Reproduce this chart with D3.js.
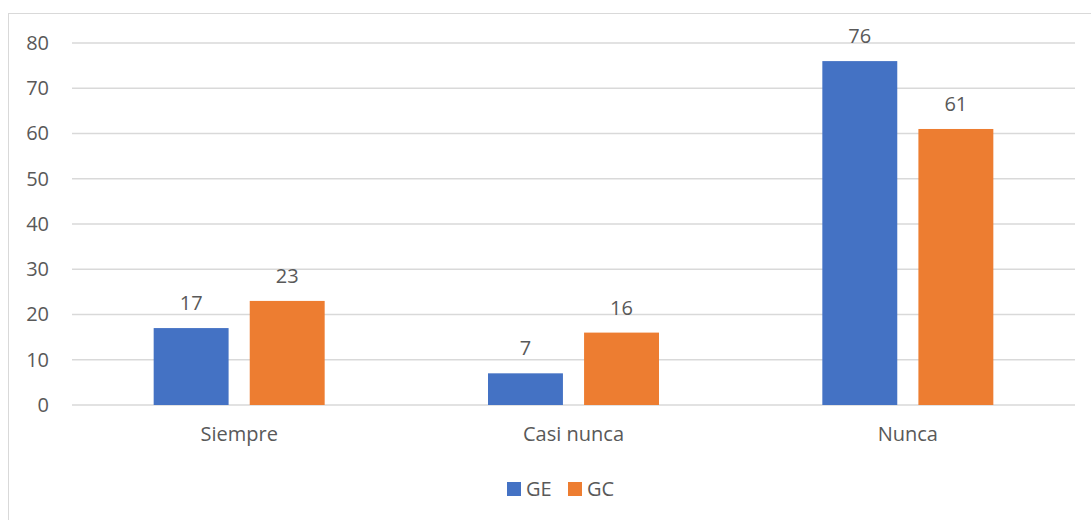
<!DOCTYPE html>
<html>
<head>
<meta charset="utf-8">
<script src="https://cdn.jsdelivr.net/npm/d3@7"></script>
<style>
  body { margin: 0; background: #fff; }
  svg text { font-family: "Open Sans", sans-serif; fill: #595959; }
</style>
</head>
<body>
<script>
// chart data
var categories = ["Siempre", "Casi nunca", "Nunca"];
var series = ["GE", "GC"];
var ge_values = [17, 7, 76];
var gc_values = [23, 16, 61];
var y_ticks = [0, 10, 20, 30, 40, 50, 60, 70, 80];

var colors = {GE: "#4472C4", GC: "#ED7D31"};

var width = 1091, height = 520;

var svg = d3.select("body").append("svg")
    .attr("width", width)
    .attr("height", height);

// outer chart border (runs off right/bottom edge like the reference)
svg.append("rect")
    .attr("x", 8.5).attr("y", 13.5)
    .attr("width", 1200).attr("height", 600)
    .attr("fill", "none")
    .attr("stroke", "#d9d9d9");

var x0 = d3.scaleBand().domain(categories).range([72, 1075]);
var x1 = d3.scaleBand().domain(series).range([-85.5, 85.5]).paddingInner(0.22);
var y = d3.scaleLinear().domain([0, 80]).range([405, 43]);

// gridlines
svg.append("g").selectAll("line")
    .data(y_ticks)
    .enter().append("line")
    .attr("x1", 72).attr("x2", 1075)
    .attr("y1", function (d) { return y(d); })
    .attr("y2", function (d) { return y(d); })
    .attr("stroke", "#d9d9d9")
    .attr("stroke-width", 1.3);

// y axis labels
var yAxis = d3.axisLeft(y).tickValues(y_ticks).tickSize(0).tickPadding(0);
var gy = svg.append("g").attr("transform", "translate(49,0)").call(yAxis);
gy.select(".domain").remove();
gy.selectAll("text")
    .style("font-family", "'Open Sans', sans-serif")
    .style("font-size", "20px")
    .attr("fill", "#595959");

// x axis labels
var xAxis = d3.axisBottom(x0).tickSize(0).tickPadding(0);
var gx = svg.append("g").attr("transform", "translate(0,427)").call(xAxis);
gx.select(".domain").remove();
gx.selectAll("text")
    .style("font-family", "'Open Sans', sans-serif")
    .style("font-size", "20px")
    .attr("fill", "#595959");

var rows = categories.map(function (c, i) {
    return {cat: c, vals: [{s: "GE", v: ge_values[i]}, {s: "GC", v: gc_values[i]}]};
});

var groups = svg.append("g").selectAll("g")
    .data(rows)
    .enter().append("g")
    .attr("transform", function (d) {
        return "translate(" + (x0(d.cat) + x0.bandwidth() / 2) + ",0)";
    });

groups.selectAll("rect")
    .data(function (d) { return d.vals; })
    .enter().append("rect")
    .attr("x", function (d) { return x1(d.s); })
    .attr("width", x1.bandwidth())
    .attr("y", function (d) { return y(d.v); })
    .attr("height", function (d) { return y(0) - y(d.v); })
    .attr("fill", function (d) { return colors[d.s]; });

groups.selectAll("text.val")
    .data(function (d) { return d.vals; })
    .enter().append("text")
    .attr("class", "val")
    .attr("x", function (d) { return x1(d.s) + x1.bandwidth() / 2; })
    .attr("y", function (d) { return y(d.v) - 18; })
    .attr("text-anchor", "middle")
    .style("font-size", "20px")
    .text(function (d) { return d.v; });

// legend
var legend = svg.append("g").selectAll("g")
    .data(series)
    .enter().append("g")
    .attr("transform", function (d, i) { return "translate(" + (507 + i * 61) + ",482)"; });

legend.append("rect")
    .attr("width", 14).attr("height", 14)
    .attr("fill", function (d) { return colors[d]; });

legend.append("text")
    .attr("x", 19).attr("y", 14)
    .style("font-size", "20px")
    .text(function (d) { return d; });
</script>
</body>
</html>
